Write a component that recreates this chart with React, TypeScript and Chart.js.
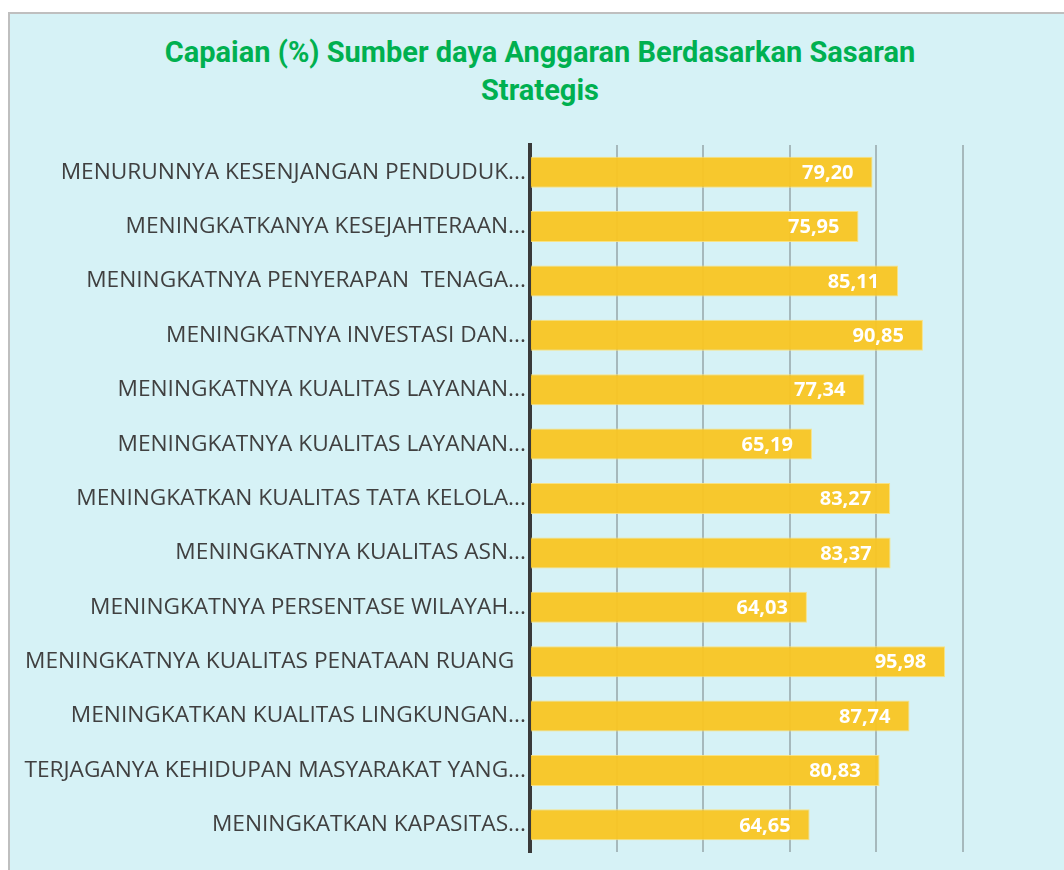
import React, { useEffect, useRef } from "react";
import { Chart, registerables } from "chart.js";

Chart.register(...registerables);

const TITLE_LINES = ["Capaian (%) Sumber daya Anggaran Berdasarkan Sasaran", "Strategis"];

const categories = [
  "MENURUNNYA KESENJANGAN PENDUDUK...",
  "MENINGKATKANYA KESEJAHTERAAN...",
  "MENINGKATNYA PENYERAPAN  TENAGA...",
  "MENINGKATNYA INVESTASI DAN...",
  "MENINGKATNYA KUALITAS LAYANAN...",
  "MENINGKATNYA KUALITAS LAYANAN...",
  "MENINGKATKAN KUALITAS TATA KELOLA...",
  "MENINGKATNYA KUALITAS ASN...",
  "MENINGKATNYA PERSENTASE WILAYAH...",
  "MENINGKATNYA KUALITAS PENATAAN RUANG  ",
  "MENINGKATKAN KUALITAS LINGKUNGAN...",
  "TERJAGANYA KEHIDUPAN MASYARAKAT YANG...",
  "MENINGKATKAN KAPASITAS...",
];

const capaian = [79.2, 75.95, 85.11, 90.85, 77.34, 65.19, 83.27, 83.37, 64.03, 95.98, 87.74, 80.83, 64.65];

const X_MIN = 0;
const X_MAX = 100;
const X_STEP = 20;

const fmt = (v: number) => v.toFixed(2).replace(".", ",");

const valueLabels = {
  id: "valueLabels",
  afterDatasetsDraw(chart: any) {
    const ctx = chart.ctx;
    const meta = chart.getDatasetMeta(0);
    ctx.save();
    ctx.fillStyle = "#ffffff";
    ctx.font = "bold 20px 'Open Sans'";
    ctx.textAlign = "right";
    ctx.textBaseline = "middle";
    meta.data.forEach((bar: any, i: number) => {
      const v = chart.data.datasets[0].data[i] as number;
      ctx.fillText(fmt(v), bar.x - 19, bar.y + 1);
    });
    ctx.restore();
  },
};

export default function App() {
  const canvasRef = useRef<HTMLCanvasElement | null>(null);

  useEffect(() => {
    document.body.style.overflow = "hidden";
    const chart = new Chart(canvasRef.current as HTMLCanvasElement, {
      type: "bar",
      data: {
        labels: categories,
        datasets: [
          {
            data: capaian,
            backgroundColor: "rgba(248,198,36,0.96)",
            borderColor: "rgba(252,224,120,0.9)",
            borderWidth: 1,
            barPercentage: 0.57,
            categoryPercentage: 1,
          },
        ],
      },
      options: {
        indexAxis: "y",
        animation: false,
        responsive: true,
        maintainAspectRatio: false,
        layout: { padding: { left: 0, right: 101.5, top: 131, bottom: 18 } },
        plugins: {
          legend: { display: false },
          tooltip: { enabled: false },
          title: { display: false },
        },
        scales: {
          x: {
            min: X_MIN,
            max: X_MAX,
            ticks: { display: false, stepSize: X_STEP },
            border: { display: false },
            grid: { color: "rgba(128,138,140,0.55)", lineWidth: 2, drawTicks: false },
          },
          y: {
            afterFit: (scale: any) => {
              scale.width = 520;
            },
            ticks: {
              color: "#404040",
              font: { family: "'Open Sans'", size: 22.7 },
              padding: 4,
              autoSkip: false,
            },
            grid: { display: false, drawTicks: false },
            border: { display: true, color: "#3a3a3a", width: 4 },
          },
        },
      } as any,
      plugins: [valueLabels],
    });
    return () => chart.destroy();
  }, []);

  return (
    <div
      style={{
        position: "absolute",
        left: 8,
        top: 12,
        width: 1056,
        height: 858,
        boxSizing: "border-box",
        borderTop: "2px solid #bfbfbf",
        borderLeft: "2px solid #bfbfbf",
        background: "#d6f2f6",
      }}
    >
      <div
        style={{
          position: "absolute",
          left: 0,
          top: 19,
          width: 1060,
          textAlign: "center",
          fontFamily: "Roboto, sans-serif",
          fontWeight: 700,
          fontSize: 29,
          lineHeight: "38px",
          color: "#00b050",
        }}
      >
        {TITLE_LINES.map((t, i) => (
          <div key={i}>{t}</div>
        ))}
      </div>
      <div style={{ position: "absolute", left: 0, top: 0, width: 1054, height: 856 }}>
        <canvas ref={canvasRef} />
      </div>
    </div>
  );
}
